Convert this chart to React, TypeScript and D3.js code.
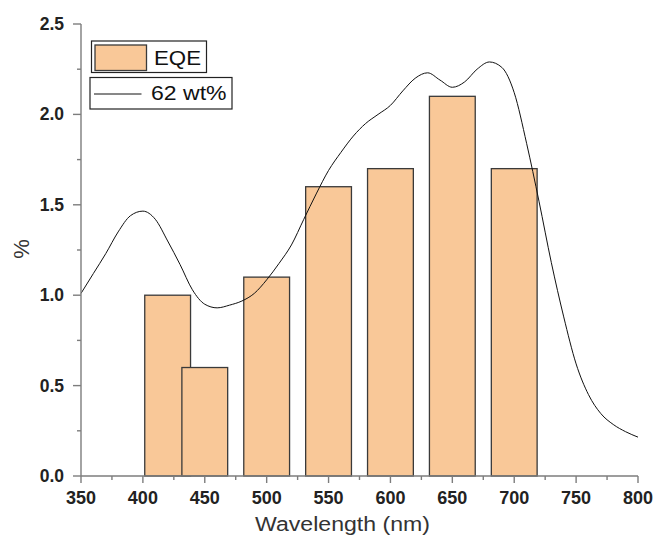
import React from "react";
import * as d3 from "d3";

// EQE bars (nm -> %)
const barWavelengths = [420, 450, 500, 550, 600, 650, 700];
const barValues = [1.0, 0.6, 1.1, 1.6, 1.7, 2.1, 1.7];

// 62 wt% absorption-like curve, read every 10 nm
const curveWavelengths = [
  350, 360, 370, 380, 390, 400, 410, 420, 430, 440, 450, 460, 470, 480, 490,
  500, 510, 520, 530, 540, 550, 560, 570, 580, 590, 600, 610, 620, 630, 640,
  650, 660, 670, 680, 690, 700, 710, 720, 730, 740, 750, 760, 770, 780, 790,
  800,
];
const curveValues = [
  1.01, 1.12, 1.23, 1.35, 1.44, 1.465, 1.42, 1.3, 1.17, 1.03, 0.95, 0.93,
  0.945, 0.968, 1.01, 1.085, 1.176, 1.278, 1.42, 1.56, 1.69, 1.79, 1.88, 1.95,
  2.0, 2.05, 2.13, 2.2, 2.23, 2.19, 2.15, 2.18, 2.25, 2.29, 2.26, 2.12, 1.84,
  1.52, 1.18, 0.88, 0.62, 0.45, 0.345, 0.285, 0.245, 0.215,
];

const xTicks = [350, 400, 450, 500, 550, 600, 650, 700, 750, 800];
const yTicks = [0, 0.5, 1.0, 1.5, 2.0, 2.5];

const W = 657;
const H = 538;
const BAR_WIDTH_NM = 37;

export default function App() {
  const x = d3.scaleLinear().domain([350, 800]).range([81, 638]);
  const y = d3.scaleLinear().domain([0, 2.5]).range([476, 24]);

  const line = d3
    .line<number>()
    .x((_, i) => x(curveWavelengths[i]))
    .y((d) => y(d))
    .curve(d3.curveMonotoneX);

  const xMinor = d3.range(375, 800, 50);
  const yMinor = d3.range(0.25, 2.5, 0.5);
  const axisColor = "#7d7d7d";
  const tickFont = "'Liberation Sans', Arial, sans-serif";

  return (
    <svg width={W} height={H} style={{ position: "absolute", left: 0, top: 0 }}>
      <rect width={W} height={H} fill="#fff" />

      {barWavelengths.map((wl, i) => (
        <rect
          key={wl}
          x={x(wl - BAR_WIDTH_NM / 2)}
          y={y(barValues[i])}
          width={x(wl + BAR_WIDTH_NM / 2) - x(wl - BAR_WIDTH_NM / 2)}
          height={y(0) - y(barValues[i])}
          fill="#F9C898"
          stroke="#3a3a3a"
          strokeWidth={1.3}
        />
      ))}

      <path d={line(curveValues) || ""} fill="none" stroke="#111" strokeWidth={1} />

      {/* axes */}
      <line x1={81} x2={81} y1={y(2.5)} y2={y(0)} stroke={axisColor} strokeWidth={1.4} />
      <line x1={81} x2={638} y1={y(0)} y2={y(0)} stroke={axisColor} strokeWidth={1.4} />

      {xTicks.map((t) => (
        <g key={t}>
          <line x1={x(t)} x2={x(t)} y1={y(0)} y2={y(0) + 7} stroke={axisColor} strokeWidth={1.4} />
          <text
            x={x(t)}
            y={504}
            textAnchor="middle"
            fontFamily={tickFont}
            fontWeight="bold"
            fontSize={18}
            fill="#222"
          >
            {t}
          </text>
        </g>
      ))}
      {xMinor.map((t) => (
        <line key={t} x1={x(t)} x2={x(t)} y1={y(0)} y2={y(0) + 4} stroke={axisColor} strokeWidth={1.4} />
      ))}

      {yTicks.map((t) => (
        <g key={t}>
          <line x1={73} x2={81} y1={y(t)} y2={y(t)} stroke={axisColor} strokeWidth={1.4} />
          <text
            x={64}
            y={y(t) + 6}
            textAnchor="end"
            fontFamily={tickFont}
            fontWeight="bold"
            fontSize={17.5}
            fill="#222"
          >
            {t.toFixed(1)}
          </text>
        </g>
      ))}
      {yMinor.map((t) => (
        <line key={t} x1={77} x2={81} y1={y(t)} y2={y(t)} stroke={axisColor} strokeWidth={1.4} />
      ))}

      <text
        x={255}
        y={531}
        fontFamily={tickFont}
        fontSize={20}
        textLength={175}
        lengthAdjust="spacingAndGlyphs"
        fill="#333"
      >
        Wavelength (nm)
      </text>
      <text
        transform="translate(29,249) rotate(-90)"
        textAnchor="middle"
        fontFamily={tickFont}
        fontSize={22}
        fill="#333"
      >
        %
      </text>

      {/* legend */}
      <rect x={91.5} y={41} width={115} height={31.5} fill="#fff" stroke="#222" strokeWidth={1.2} />
      <rect x={95} y={45} width={51.5} height={25.5} fill="#F9C898" stroke="#3a3a3a" strokeWidth={1.3} />
      <text
        x={154}
        y={65}
        fontFamily={tickFont}
        fontSize={21}
        textLength={47}
        lengthAdjust="spacingAndGlyphs"
        fill="#111"
      >
        EQE
      </text>
      <rect x={90} y={77.5} width={142} height={31.5} fill="#fff" stroke="#222" strokeWidth={1.2} />
      <line x1={94} x2={141.5} y1={94} y2={94} stroke="#111" strokeWidth={1} />
      <text
        x={151}
        y={100}
        fontFamily={tickFont}
        fontSize={20}
        textLength={75.5}
        lengthAdjust="spacingAndGlyphs"
        fill="#111"
      >
        62 wt%
      </text>
    </svg>
  );
}
